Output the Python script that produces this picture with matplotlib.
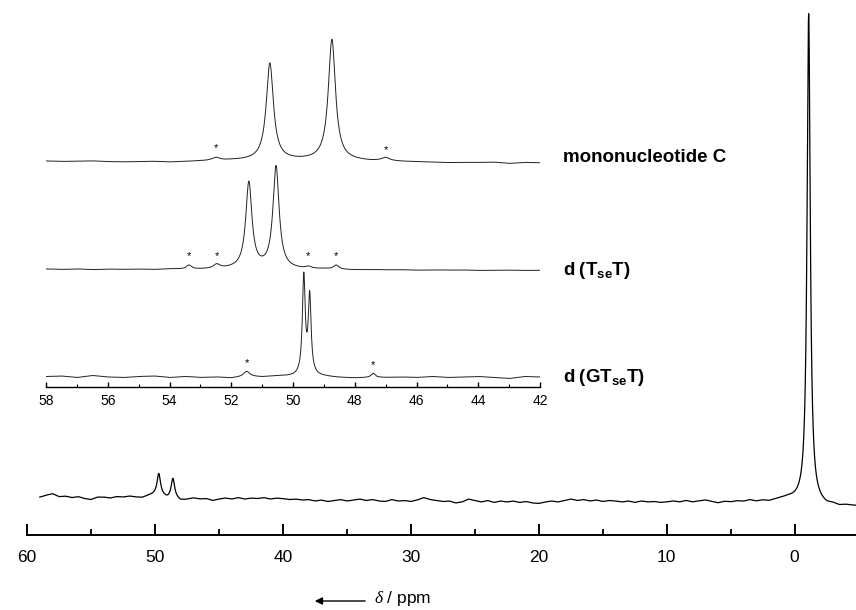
import numpy as np
import matplotlib
matplotlib.use("Agg")
import matplotlib.pyplot as plt

plt.rcParams['font.family'] = ['Liberation Sans', 'DejaVu Sans']
plt.rcParams['mathtext.fontset'] = 'custom'
plt.rcParams['mathtext.rm'] = 'Liberation Sans'
plt.rcParams['mathtext.bf'] = 'Liberation Sans:bold'
plt.rcParams['mathtext.it'] = 'Liberation Serif:italic'


def lorentz(x, peaks):
    # peaks: list of (shift, height, half width)
    y = np.zeros_like(x)
    for x0, h, w in peaks:
        y += h / (1 + ((x - x0) / w) ** 2)
    return y


# --- full spectrum (intensity, big peak = 100) ---
main_peaks = [(-1.1, 100.0, 0.15), (49.7, 4.4, 0.16), (48.6, 3.9, 0.16)]
main_base_ppm = np.arange(59, -5.01, -0.5)
main_base = [1.0, 1.4, 1.7, 1.1, 1.2, 0.9, 1.1, 0.7, 0.5, 1.0,
             1.0, 0.8, 1.1, 1.0, 1.2, 1.0, 0.9, 1.3, 1.5, 1.3,
             0.7, 0.9, 0.3, 0.5, 0.8, 0.6, 0.7, 0.3, 0.6, 0.8,
             0.6, 0.9, 0.6, 0.8, 0.7, 0.9, 0.6, 0.8, 0.7, 0.5,
             0.6, 0.4, 0.5, 0.2, 0.4, 0.1, 0.3, 0.5, 0.2, 0.4,
             0.6, 0.3, 0.5, 0.2, 0.1, 0.5, 0.2, 0.3, 0.1, 0.4,
             0.9, 0.5, 0.3, 0.1, 0.2, -0.2, 0.0, 0.6, 0.3, 0.0,
             0.3, -0.1, 0.2, 0.0, 0.2, -0.1, 0.1, -0.2, -0.3, 0.0,
             0.2, 0.0, 0.3, 0.6, 0.3, 0.5, 0.2, 0.4, 0.1, 0.3,
             0.2, 0.0, 0.2, -0.1, 0.2, 0.0, 0.1, -0.1, 0.0, 0.2,
             0.0, 0.3, 0.0, 0.2, 0.4, 0.1, -0.2, 0.1, 0.0, 0.2,
             0.1, 0.4, 0.1, 0.3, 0.1, 0.4, 0.6, 0.7, 0.4, 0.2,
             0.0, -0.2, -0.5, -0.8, -0.6, -0.9, -0.7, -0.8, -0.8]

# --- expanded region 58-42 ppm ---
inset_base_ppm = np.arange(58, 41.99, -0.5)
trace_names = ['mononucleotide C', r'$\mathbf{d\ (T_{se}T)}$', r'$\mathbf{d\ (GT_{se}T)}$']
trace_offset = [225, 117, 10]
trace_peaks = [
    [(50.75, 97, 0.14), (48.74, 121, 0.14), (52.5, 3, 0.15), (47.0, 3, 0.15)],
    [(51.43, 86, 0.12), (50.55, 102, 0.12), (53.37, 4, 0.10), (52.47, 4, 0.12),
     (49.5, 2, 0.10), (48.6, 4, 0.10)],
    [(49.65, 98, 0.055), (49.46, 78, 0.055), (51.5, 5, 0.12), (47.4, 4, 0.08)],
]
trace_base = [
    [1.0, 0.5, 0.8, 1.0, 0.3, 0.0, 0.2, 0.5, -0.2, 0.3,
     0.8, 1.0, 1.5, 1.5, 1.5, 1.5, 1.5, 1.5, 1.5, 1.0,
     1.0, 0.6, 0.8, 0.3, 0.0, -0.5, -0.8, -0.5, -0.6, -0.2,
     -1.5, -0.5, -0.8],
    [1.0, 0.5, 1.0, 0.3, 0.8, 0.5, 0.8, 0.3, 1.0, 0.5,
     0.5, 0.8, 1.0, 1.0, 1.0, 1.0, 0.5, 0.5, 0.8, 0.3,
     0.0, 0.3, 0.0, 0.2, -0.3, 0.0, -0.2, 0.0, -0.5, -0.3,
     -0.2, -0.5, -0.3],
    [0.5, 1.0, -0.5, 1.5, 0.0, -0.5, 0.5, 1.0, -0.5, 0.5,
     -0.5, 0.0, -1.0, 0.5, 0.0, 1.0, 0.5, 1.0, 0.5, -0.5,
     -1.0, -0.5, -0.5, 0.0, -0.5, 0.5, -0.5, 0.0, 0.5, -0.5,
     -1.5, 0.5, 0.0],
]
trace_label_y = [157, 270, 377]
star_ppm = [[52.5, 47.0], [53.37, 52.47, 49.5, 48.6], [51.5, 47.4]]
star_y = [[239, 237], [131, 131, 131, 131], [24, 22]]

W, H = 856, 610
fig = plt.figure(figsize=(W / 100, H / 100), dpi=100)

# main axes
ax = fig.add_axes([27 / W, 75 / H, 1 - 27 / W, 1 - 75 / H])
x = np.linspace(59, -5, 8000)
y = np.interp(x, main_base_ppm[::-1], main_base[::-1]) + lorentz(x, main_peaks)
ax.plot(x, y, color='black', lw=0.9)
ax.set_xlim(60, -4.8)
ax.set_ylim(-6.75, 102.7)
for s in ['top', 'left', 'right']:
    ax.spines[s].set_visible(False)
ax.spines['bottom'].set_linewidth(1.4)
ax.set_yticks([])
ax.set_xticks(np.arange(60, -1, -10))
ax.set_xticks(np.arange(55, -5, -10), minor=True)
ax.tick_params(axis='x', which='major', direction='in', length=8, width=1.4,
               labelsize=12.5, pad=11)
ax.tick_params(axis='x', which='minor', direction='in', length=4.5, width=1.3)

# inset axes
ins = fig.add_axes([46 / W, (H - 387) / H, (540 - 46) / W, (387 - 20) / H])
ins.patch.set_alpha(0)
xi = np.linspace(58, 42, 4000)
for k in range(3):
    yi = trace_offset[k] + np.interp(xi, inset_base_ppm[::-1], trace_base[k][::-1]) \
        + lorentz(xi, trace_peaks[k])
    ins.plot(xi, yi, color='#222222', lw=0.7)
    for sp, sy in zip(star_ppm[k], star_y[k]):
        ins.text(sp, sy, '*', ha='center', va='center', fontsize=8)
    fig.text(563 / W, 1 - trace_label_y[k] / H, trace_names[k], fontsize=13.5,
             fontweight='bold', ha='left', va='center')
ins.set_xlim(58, 42)
ins.set_ylim(0, 367)
for s in ['top', 'left', 'right']:
    ins.spines[s].set_visible(False)
ins.spines['bottom'].set_linewidth(1.0)
ins.set_yticks([])
ins.set_xticks(np.arange(58, 41, -2))
ins.set_xticks(np.arange(57, 42, -2), minor=True)
ins.tick_params(axis='x', which='major', direction='in', length=3.8, width=1.0,
                labelsize=10, pad=5)
ins.tick_params(axis='x', which='minor', direction='in', length=2.2, width=0.8)

# axis label with arrow
ax.annotate('', xy=(312, 9), xytext=(368, 9), xycoords='figure pixels',
            textcoords='figure pixels',
            arrowprops=dict(arrowstyle='-|>', lw=1.0, color='black', mutation_scale=11))
fig.text(374 / W, 11 / H, r'$\delta$ / ppm', fontsize=12.5, ha='left', va='center')

fig.savefig('out.png', dpi=100)
